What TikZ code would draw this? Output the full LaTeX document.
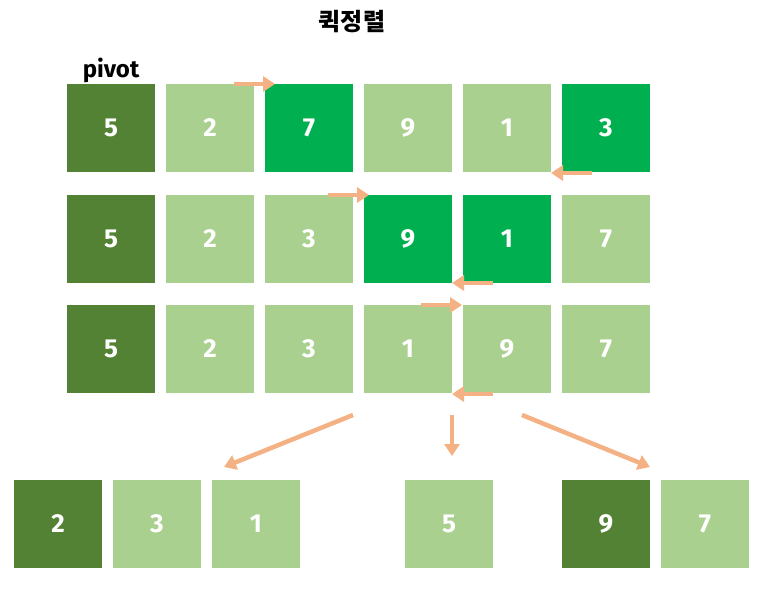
\documentclass[tikz,border=0pt]{standalone}
\usepackage{fontspec}
\setmainfont{Fira Sans}
\newfontfamily\krfont{Noto Sans CJK KR}
\usetikzlibrary{arrows.meta}
\definecolor{pivotgreen}{HTML}{548235}
\definecolor{lightgreen}{HTML}{A9D08E}
\definecolor{swapgreen}{HTML}{00B050}
\definecolor{arrowpeach}{HTML}{F4B183}
\tikzset{
  cell/.style={draw=none,minimum size=88pt,inner sep=0pt,text=white,
    font=\bfseries\fontsize{26}{26}\selectfont},
  move/.style={draw=arrowpeach,line width=4.5pt,
    -{Triangle[length=12pt,width=15pt]}}
}
\begin{document}
\begin{tikzpicture}[x=1pt,y=-1pt]
  \useasboundingbox (0,0) rectangle (769,607);
  \node [font=\krfont\bfseries\fontsize{24}{24}\selectfont] (title) at (352,22) {퀵정렬};
  \node [font=\bfseries\fontsize{24}{24}\selectfont] (pivot) at (111,70) {pivot};
  % rows of the partition
  \foreach \v/\c [count=\i] in {5/pivotgreen,2/lightgreen,7/swapgreen,9/lightgreen,1/lightgreen,3/swapgreen}
    \node [cell,fill=\c] (a\i) at (12+99*\i,128) {\v};
  \foreach \v/\c [count=\i] in {5/pivotgreen,2/lightgreen,3/lightgreen,9/swapgreen,1/swapgreen,7/lightgreen}
    \node [cell,fill=\c] (b\i) at (12+99*\i,239) {\v};
  \foreach \v/\c [count=\i] in {5/pivotgreen,2/lightgreen,3/lightgreen,1/lightgreen,9/lightgreen,7/lightgreen}
    \node [cell,fill=\c] (c\i) at (12+99*\i,349) {\v};
  % results
  \node [cell,fill=pivotgreen] (l1) at (58,524) {2};
  \node [cell,fill=lightgreen] (l2) at (157,524) {3};
  \node [cell,fill=lightgreen] (l3) at (256,524) {1};
  \node [cell,fill=lightgreen] (m1) at (449,524) {5};
  \node [cell,fill=pivotgreen] (r1) at (606,524) {9};
  \node [cell,fill=lightgreen] (r2) at (705,524) {7};
  % pointers
  \coordinate (a1s) at (234,84);   \coordinate (a1e) at (275,84);
  \coordinate (a2s) at (592,173);  \coordinate (a2e) at (551,173);
  \coordinate (b1s) at (328,195);  \coordinate (b1e) at (369,195);
  \coordinate (b2s) at (493,283);  \coordinate (b2e) at (452,283);
  \coordinate (c1s) at (421,305);  \coordinate (c1e) at (462,305);
  \coordinate (c2s) at (493,394);  \coordinate (c2e) at (452,394);
  \draw [move] (a1s) -- (a1e);
  \draw [move] (a2s) -- (a2e);
  \draw [move] (b1s) -- (b1e);
  \draw [move] (b2s) -- (b2e);
  \draw [move] (c1s) -- (c1e);
  \draw [move] (c2s) -- (c2e);
  % split
  \coordinate (sl) at (353,415);  \coordinate (el) at (224,467);
  \coordinate (sm) at (452,415);  \coordinate (em) at (452,456);
  \coordinate (sr) at (522,415);  \coordinate (er) at (650,467);
  \draw [move] (sl) -- (el);
  \draw [move] (sm) -- (em);
  \draw [move] (sr) -- (er);
\end{tikzpicture}
\end{document}
